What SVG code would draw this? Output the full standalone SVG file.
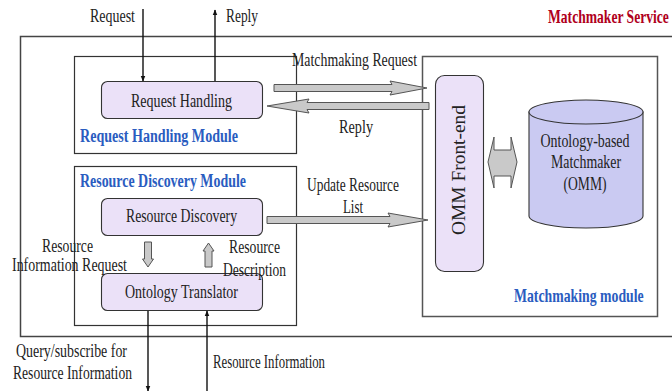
<svg xmlns="http://www.w3.org/2000/svg" width="672" height="391" viewBox="0 0 672 391">
  <defs>
    <style>
      .t { font-family: "Liberation Serif", "Times New Roman", serif; font-size: 18px; fill: #222; }
      .blue { font-family: "Liberation Serif", "Times New Roman", serif; font-size: 18px; font-weight: bold; fill: #2a5cc0; }
      .red { font-family: "Liberation Serif", "Times New Roman", serif; font-size: 18px; font-weight: bold; fill: #b0001c; }
      .module { fill: #ffffff; stroke: #333; stroke-width: 1.2; }
      .node { fill: #ebe1f8; stroke: #333; stroke-width: 1.1; }
      .block { fill: #c9c9c9; stroke: #555; stroke-width: 1; }
      .line { stroke: #111; stroke-width: 1.4; fill: none; }
    </style>
    <marker id="ah" viewBox="0 0 10 10" refX="9" refY="5" markerWidth="6" markerHeight="6" orient="auto" markerUnits="userSpaceOnUse">
      <path d="M0,1 L10,5 L0,9 Z" fill="#111"/>
    </marker>
  </defs>

  <!-- Matchmaker service frame (right side continues off the page) -->
  <g id="matchmaker-service">
    <rect x="20.5" y="36.5" width="700" height="300" fill="none" stroke="#444" stroke-width="1.5"/>
    <!-- condensed title: horizontal scale instead of stretched glyphs -->
    <text class="red" transform="translate(548,23) scale(0.76,1)" x="0" y="0" textLength="159" lengthAdjust="spacingAndGlyphs">Matchmaker Service</text>
  </g>

  <!-- Request handling module -->
  <g id="request-handling-module">
    <rect class="module" x="74.5" y="56.5" width="222" height="97"/>
    <text class="blue" x="80" y="142" textLength="158" lengthAdjust="spacingAndGlyphs">Request Handling Module</text>
  </g>
  <g id="request-handling">
    <rect class="node" x="101.5" y="81.5" width="161" height="37" rx="6"/>
    <text class="t" x="181.5" y="107" text-anchor="middle" textLength="101" lengthAdjust="spacingAndGlyphs">Request Handling</text>
  </g>

  <!-- Resource discovery module -->
  <g id="resource-discovery-module">
    <rect class="module" x="74.5" y="166.5" width="222" height="159"/>
    <text class="blue" x="80" y="187" textLength="166" lengthAdjust="spacingAndGlyphs">Resource Discovery Module</text>
  </g>
  <g id="resource-discovery">
    <rect class="node" x="101.5" y="198.5" width="161" height="37" rx="6"/>
    <text class="t" x="181.5" y="222" text-anchor="middle" textLength="111" lengthAdjust="spacingAndGlyphs">Resource Discovery</text>
  </g>
  <g id="ontology-translator">
    <rect class="node" x="101.5" y="273.5" width="161" height="37" rx="6"/>
    <text class="t" x="181.5" y="298" text-anchor="middle" textLength="113" lengthAdjust="spacingAndGlyphs">Ontology Translator</text>
  </g>

  <!-- Matchmaking module -->
  <g id="matchmaking-module">
    <rect x="422.5" y="56.5" width="235" height="260" fill="#ffffff" stroke="#555" stroke-width="1.5"/>
    <text class="blue" transform="translate(514,302) scale(0.767,1)" x="0" y="0" textLength="169" lengthAdjust="spacingAndGlyphs">Matchmaking module</text>
  </g>
  <g id="omm-front-end">
    <rect class="node" x="435.5" y="75.5" width="48" height="196" rx="9"/>
    <text class="t" transform="translate(465,170) rotate(-90)" text-anchor="middle" textLength="130" lengthAdjust="spacingAndGlyphs">OMM  Front-end</text>
  </g>
  <g id="omm">
    <path d="M529,112 V216 A57,12 0 0,0 643,216 V112 Z" fill="#cacaf2" stroke="#333" stroke-width="1.1"/>
    <ellipse cx="586" cy="112" rx="57" ry="12" fill="#cacaf2" stroke="#333" stroke-width="1.1"/>
    <text class="t" x="585" y="147" text-anchor="middle" textLength="89" lengthAdjust="spacingAndGlyphs">Ontology-based</text>
    <text class="t" x="586" y="168" text-anchor="middle" textLength="70" lengthAdjust="spacingAndGlyphs">Matchmaker</text>
    <text class="t" x="585" y="190" text-anchor="middle" textLength="43" lengthAdjust="spacingAndGlyphs">(OMM)</text>
  </g>

  <!-- Connectors -->
  <g id="connectors">
    <!-- external request / reply -->
    <line class="line" x1="143" y1="9" x2="143" y2="81" marker-end="url(#ah)"/>
    <line class="line" x1="215" y1="81" x2="215" y2="10" marker-end="url(#ah)"/>
    <text class="t" x="90" y="22" textLength="45" lengthAdjust="spacingAndGlyphs">Request</text>
    <text class="t" x="226" y="22" textLength="32" lengthAdjust="spacingAndGlyphs">Reply</text>

    <!-- request handling <-> front-end -->
    <polygon class="block" points="274,84.5 392,84.5 390,81 427,88 390,95 392,91.5 274,91.5"/>
    <text class="t" x="292" y="66" textLength="125" lengthAdjust="spacingAndGlyphs">Matchmaking Request</text>
    <polygon class="block" points="429,102.5 307,102.5 309,99 267,106 309,113 307,109.5 429,109.5"/>
    <text class="t" x="339" y="133" textLength="34" lengthAdjust="spacingAndGlyphs">Reply</text>

    <!-- resource discovery -> front-end -->
    <polygon class="block" points="267,216.5 390,216.5 388,213 428,220 388,227 390,223.5 267,223.5"/>
    <text class="t" x="353" y="191" text-anchor="middle" textLength="92" lengthAdjust="spacingAndGlyphs">Update Resource</text>
    <text class="t" x="353" y="213" text-anchor="middle" textLength="20" lengthAdjust="spacingAndGlyphs">List</text>

    <!-- front-end <-> OMM -->
    <path class="block" d="M494,137 L494,150 L511,150 L511,137 L517,162 L511,188 L511,176 L494,176 L494,188 L488,162 Z"/>

    <!-- resource discovery <-> ontology translator -->
    <polygon class="block" points="144.5,242 151.5,242 151.5,259 153.5,259 148,267 142.5,259 144.5,259"/>
    <polygon class="block" points="205,267 212,267 212,251 214,251 208.5,243 203,251 205,251"/>
    <text class="t" x="42" y="252" textLength="51" lengthAdjust="spacingAndGlyphs">Resource</text>
    <text class="t" x="12" y="271" textLength="115" lengthAdjust="spacingAndGlyphs">Information Request</text>
    <text class="t" x="229" y="253" textLength="51" lengthAdjust="spacingAndGlyphs">Resource</text>
    <text class="t" x="223" y="276" textLength="63" lengthAdjust="spacingAndGlyphs">Description</text>

    <!-- ontology translator <-> external resources -->
    <line class="line" x1="148" y1="311" x2="148" y2="391" marker-end="url(#ah)"/>
    <line class="line" x1="207" y1="391" x2="207" y2="311" marker-end="url(#ah)"/>
    <text class="t" x="16" y="357" textLength="111" lengthAdjust="spacingAndGlyphs">Query/subscribe for</text>
    <text class="t" x="13" y="379" textLength="119" lengthAdjust="spacingAndGlyphs">Resource Information</text>
    <text class="t" x="213" y="368" textLength="112" lengthAdjust="spacingAndGlyphs">Resource Information</text>
  </g>
</svg>
